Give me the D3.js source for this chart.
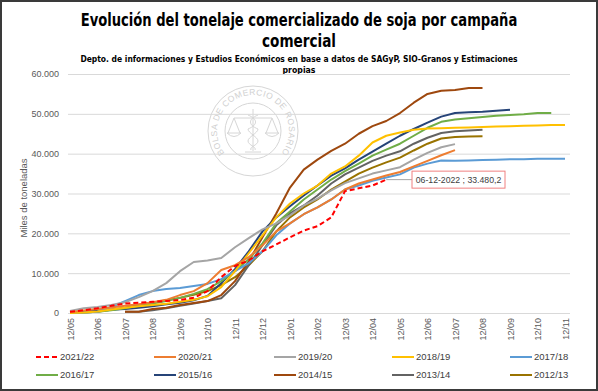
<!DOCTYPE html>
<html>
<head>
<meta charset="utf-8">
<script src="https://cdn.jsdelivr.net/npm/d3@7"></script>
<style>
  body { margin: 0; background: #fff; }
  svg { display: block; font-family: "Liberation Sans", Arial, sans-serif; }
</style>
</head>
<body>
<svg id="chart" width="598" height="391"></svg>
<script>
// campañas, de la más reciente a la más vieja (orden de la leyenda)
var campanias = ["2021/22", "2020/21", "2019/20", "2018/19", "2017/18",
                 "2016/17", "2015/16", "2014/15", "2013/14", "2012/13"];
var colores = ["#FF0000", "#ED7D31", "#A5A5A5", "#FFC000", "#5B9BD5",
               "#70AD47", "#264478", "#9E480E", "#636363", "#997300"];

// eje x: meses desde el 12/05 (cada medio mes)
var meses = [0, 0.5, 1, 1.5, 2, 2.5, 3, 3.5, 4, 4.5, 5, 5.5, 6, 6.5, 7, 7.5, 8, 8.5, 9, 9.5,
             10, 10.5, 11, 11.5, 12, 12.5, 13, 13.5, 14, 14.5, 15, 15.5, 16, 16.5, 17, 17.5, 18];
var etiquetasX = ["12/05", "12/06", "12/07", "12/08", "12/09", "12/10", "12/11", "12/12", "12/01",
                  "12/02", "12/03", "12/04", "12/05", "12/06", "12/07", "12/08", "12/09", "12/10", "12/11"];
var ticksY = [0, 10000, 20000, 30000, 40000, 50000, 60000];

// miles de toneladas acumuladas
var v2122 = [300, 700, 1200, 1800, 2400, 2600, 2800, 3000, 3300, 3800, 5500, 9000, 11800, 13200, 15500, 17200,
             19000, 20700, 21800, 24000, 30600, 31300, 32000, 33480.2];
var v2021 = [200, 600, 1000, 1400, 1800, 2200, 2700, 3300, 4500, 5500, 7500, 10800, 12000, 14000, 17000, 20500,
             22500, 24800, 26500, 28500, 31000, 32500, 33500, 34500, 35400, 36800, 38200, 39600, 40900];
var v1920 = [500, 1200, 1500, 2000, 2700, 4000, 5500, 7500, 10500, 12800, 13200, 13800, 16500, 18800, 21000, 22500,
             24500, 27000, 28700, 30800, 32600, 33800, 35000, 35800, 36600, 38500, 40200, 41600, 42400];
var v1819 = [0, 100, 400, 900, 1300, 1700, 2000, 2300, 2800, 3300, 4200, 6500, 10500, 15000, 19500, 24000,
             27500, 30000, 32000, 35000, 36800, 39500, 42800, 44500, 45300, 46000, 46300, 46400, 46500, 46600,
             46700, 46800, 46900, 47000, 47100, 47200, 47200];
var v1718 = [0, 100, 300, 1500, 3000, 4500, 5500, 6000, 6300, 6800, 7300, 8500, 10500, 12500, 15500, 19500,
             22500, 24800, 26500, 28500, 31000, 32000, 33200, 34000, 34800, 36500, 37500, 38300, 38200, 38300,
             38400, 38500, 38600, 38600, 38700, 38700, 38700];
var v1617 = [0, 100, 300, 700, 1200, 1800, 2400, 3000, 3800, 4800, 6000, 8000, 10500, 13500, 17500, 22500,
             25500, 28500, 31000, 33500, 35600, 37500, 39500, 41000, 42500, 44500, 46500, 48000, 48600, 48900,
             49200, 49500, 49700, 49900, 50200, 50200];
var v1516 = [200, 400, 600, 800, 1000, 1300, 1700, 2200, 2600, 3200, 4300, 7500, 11000, 15500, 20500, 24000,
             26800, 29500, 32000, 34500, 36300, 38500, 40500, 42500, 44500, 46200, 47800, 49300, 50200, 50400,
             50500, 50800, 51000];
var v1415 = [null, null, null, null, 300, 300, 1000, 1300, 2000, 2500, 3000, 4500, 8000, 13000, 19000, 25000,
             31500, 36000, 38500, 40700, 42500, 45000, 46900, 48200, 50200, 52800, 55000, 55800, 56000, 56500, 56500];
var v1314 = [null, null, null, null, 300, 300, 700, 1200, 1800, 2400, 3000, 3700, 7000, 12000, 17000, 22000,
             25000, 27000, 29500, 32500, 34800, 36500, 38200, 39500, 40600, 42500, 44000, 45200, 45600, 45800, 46000];
var v1213 = [0, 100, 300, 800, 1300, 2000, 2600, 3200, 3800, 4600, 5500, 7000, 9000, 12000, 15500, 20500,
             24000, 26500, 28500, 31000, 33000, 35000, 36500, 37800, 39000, 40800, 42500, 43800, 44200, 44300, 44400];

var series = [v2122, v2021, v1920, v1819, v1718, v1617, v1516, v1415, v1314, v1213];

var svg = d3.select("#chart");
var fuenteTitulo = "'Liberation Sans Narrow','DejaVu Sans Condensed',sans-serif";

//marco
svg.append("rect").attr("x", 1).attr("y", 1).attr("width", 596).attr("height", 389)
    .attr("fill", "#fff").attr("stroke", "#3a3a3a").attr("stroke-width", 2);

/* titulos: se achican en x hasta el ancho del original */
var titulos = [
    { t: "Evolución del tonelaje comercializado de soja por campaña", y: 26, s: 18.5, w: 437 },
    { t: "comercial", y: 47, s: 18.5, w: 74 },
    { t: "Depto. de informaciones y Estudios Económicos en base a datos de SAGyP, SIO-Granos y Estimaciones", y: 62, s: 9.5, w: 438 },
    { t: "propias", y: 73, s: 9.5, w: 33 }
];
titulos.forEach(function (d) {
    var t = svg.append("text").attr("text-anchor", "middle")
        .style("font-family", fuenteTitulo)
        .style("font-weight", "bold").style("font-size", d.s + "px").attr("fill", "#000")
        .text(d.t);
    var k = d.w / t.node().getComputedTextLength();
    t.attr("transform", "translate(299," + d.y + ") scale(" + k + ",1)");
});

// escalas
var x = d3.scaleLinear().domain([0, 18]).range([70, 565]);
var y = d3.scaleLinear().domain([0, 60000]).range([313, 74]);

/* sello de la bolsa (marca de agua) */
var sello = svg.append("g").attr("transform", "translate(253,131)")
    .attr("fill", "none").attr("stroke", "#d6d6d6").attr("stroke-width", 1);
sello.append("circle").attr("r", 45);
sello.append("circle").attr("r", 28);
var r = 36, a = 130 * Math.PI / 180;
sello.append("path").attr("id", "arcoSello").attr("stroke", "none")
    .attr("d", "M" + (-r * Math.sin(a)) + "," + (-r * Math.cos(a)) +
               " A" + r + "," + r + " 0 1 1 " + (r * Math.sin(a)) + "," + (-r * Math.cos(a)));
sello.append("text").attr("fill", "#d0d0d0").attr("stroke", "none")
    .style("font-size", "8.5px")
    .append("textPath").attr("href", "#arcoSello").attr("startOffset", "50%")
    .attr("text-anchor", "middle").attr("textLength", 160)
    .text("BOLSA DE COMERCIO DE ROSARIO");
// balanza y caduceo
sello.append("line").attr("x1", 0).attr("y1", -22).attr("x2", 0).attr("y2", 20);
sello.append("line").attr("x1", -19).attr("y1", -13).attr("x2", 19).attr("y2", -13);
[-1, 1].forEach(function (s) {
    sello.append("path").attr("d", "M" + (s * 19) + ",-13 L" + (s * 25) + ",2 M" + (s * 19) + ",-13 L" + (s * 13) + ",2" +
        " M" + (s * 26) + ",2 Q" + (s * 19) + ",9 " + (s * 12) + ",2 Z");
});
sello.append("path").attr("d", "M-5,-16 C5,-12 5,-6 -5,-2 C-5,2 5,6 5,10 C5,14 -4,16 -2,19");
sello.append("path").attr("d", "M5,-16 C-5,-12 -5,-6 5,-2 C5,2 -5,6 -5,10 C-5,14 4,16 2,19");
sello.append("path").attr("d", "M-8,21 L8,21");

/* eje y con grilla */
var ejeY = svg.append("g").attr("transform", "translate(68,0)")
    .call(d3.axisLeft(y).tickValues(ticksY).tickSize(-502).tickPadding(9)
        .tickFormat(function (d) { return d3.format(",")(d).replace(/,/g, "."); }));
ejeY.select(".domain").remove();
ejeY.selectAll(".tick line").attr("stroke", "#D9D9D9");
ejeY.selectAll(".tick text").attr("fill", "#595959").style("font-size", "9px")
    .style("font-family", "'Liberation Sans', Arial, sans-serif");

svg.append("text").attr("transform", "translate(24,198) rotate(-90)")
    .attr("text-anchor", "middle").attr("dy", "0.35em")
    .attr("fill", "#595959").style("font-size", "9.5px")
    .text("Miles de toneladas");

/* eje x */
var ejeX = svg.append("g").attr("transform", "translate(0,313)")
    .call(d3.axisBottom(x).tickValues(d3.range(etiquetasX.length)).tickSize(0)
        .tickFormat(function (d, i) { return etiquetasX[i]; }));
ejeX.select(".domain").remove();
ejeX.selectAll(".tick text")
    .attr("transform", "rotate(-90)").attr("text-anchor", "end")
    .attr("x", -5).attr("y", 0).attr("dy", "0.35em")
    .attr("fill", "#595959").style("font-size", "9px")
    .style("font-family", "'Liberation Sans', Arial, sans-serif");

/* lineas */
var linea = d3.line()
    .defined(function (d) { return d != null; })
    .x(function (d, i) { return x(meses[i]); })
    .y(function (d) { return y(d); });

var capa = svg.append("g");
for (var k = series.length - 1; k >= 0; k--) {
    capa.append("path").datum(series[k])
        .attr("d", linea)
        .attr("fill", "none")
        .attr("stroke", colores[k])
        .attr("stroke-width", 2)
        .attr("stroke-linejoin", "round")
        .attr("stroke-dasharray", k == 0 ? "5,3" : null);
}

/* etiqueta del ultimo dato */
var ult = v2122.length - 1;
var px = x(meses[ult]), py = y(v2122[ult]);
svg.append("line").attr("x1", px).attr("y1", py).attr("x2", 412).attr("y2", py)
    .attr("stroke", "#A6A6A6").attr("stroke-width", 1);
svg.append("rect").attr("x", 412).attr("y", py - 8.5).attr("width", 93).attr("height", 17)
    .attr("fill", "#fff").attr("stroke", "#F08080").attr("stroke-width", 1);
svg.append("text").attr("x", 458.5).attr("y", py).attr("dy", "0.35em")
    .attr("text-anchor", "middle").attr("fill", "#404040").style("font-size", "8.7px")
    .text("06-12-2022 ; " + d3.format(",.1f")(v2122[ult]).replace(/,/g, "#").replace(".", ",").replace(/#/g, "."));

/* leyenda */
var colX = [36, 154, 274, 392, 510], filaY = [357, 375];
var ley = svg.append("g").selectAll("g").data(campanias).enter().append("g")
    .attr("transform", function (d, i) { return "translate(" + colX[i % 5] + "," + filaY[Math.floor(i / 5)] + ")"; });
ley.append("line").attr("x1", 0).attr("x2", 22).attr("y1", 0).attr("y2", 0)
    .attr("stroke", function (d, i) { return colores[i]; }).attr("stroke-width", 2)
    .attr("stroke-dasharray", function (d, i) { return i == 0 ? "5,3" : null; });
ley.append("text").attr("x", 24).attr("dy", "0.35em")
    .attr("fill", "#404040").style("font-size", "9.5px")
    .text(function (d) { return d; });
</script>
</body>
</html>
